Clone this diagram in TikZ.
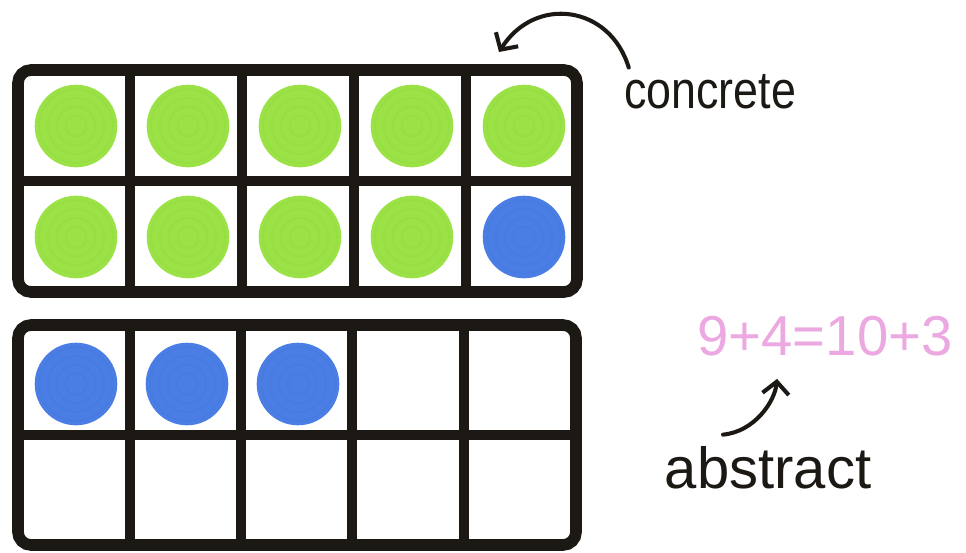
\documentclass[tikz,border=0pt]{standalone}
\usepackage{fontspec}
\setmainfont{Liberation Sans}
\newfontfamily\narrowhand[FakeStretch=0.85]{Liberation Sans}
\usetikzlibrary{arrows.meta}
\definecolor{chipgreen}{RGB}{155,226,70}
\definecolor{chipblue}{RGB}{74,126,228}
\definecolor{framecol}{RGB}{28,24,20}
\definecolor{inkpink}{RGB}{236,168,224}
\definecolor{ink}{RGB}{28,24,20}
\begin{document}
\begin{tikzpicture}[x=0.2mm, y=-0.2mm, >={Straight Barb[length=7pt,width=15pt]},
  tenframe/.style={draw=framecol, line width=6.6pt, rounded corners=2.6mm},
  bar/.style={draw=framecol, line width=6pt},
  chip/.style={circle, inner sep=0pt, minimum size=47pt, fill=#1,
    path picture={\foreach \r in {6,11,16,21}
      \draw[#1!88!black, opacity=.18, line width=.9pt] (path picture bounding box.center) circle (\r pt);}},
  hand/.style={inner sep=0pt, anchor=base, text=ink},
  cue/.style={->, draw=ink, line width=2.3pt, line cap=round}]
\path[use as bounding box, fill=white] (0,0) rectangle (966,552);
% top ten-frame
\draw[tenframe] (18,70) rectangle (577,292);
\foreach \x in {130,242,354,466} \draw[bar] (\x,70) -- (\x,292);
\draw[bar] (18,181) -- (577,181);
\foreach \i in {0,...,4} \node[chip=chipgreen] (gup\i) at (76+112*\i,126) {};
\foreach \i in {0,...,3} \node[chip=chipgreen] (glow\i) at (76+112*\i,237) {};
\node[chip=chipblue] (blast) at (524,237) {};
% bottom ten-frame
\draw[tenframe] (18,325) rectangle (576,545);
\foreach \x in {130,241,352,464} \draw[bar] (\x,325) -- (\x,545);
\draw[bar] (18,435) -- (576,435);
\foreach \i in {0,1,2} \node[chip=chipblue] (bup\i) at (76+111*\i,384) {};
% labels
\node[hand, font=\narrowhand\fontsize{30}{34}\selectfont] (concrete) at (710,108) {concrete};
\node[hand, font=\fontsize{33}{38}\selectfont] (abstract) at (768,488) {abstract};
\node[hand, text=inkpink, font=\fontsize{32}{36}\selectfont] (eq) at (825,355) {9+4=10+3};
\coordinate (frametip) at (499,52);
\draw[cue] ([shift={(5,-6)}]concrete.north west) .. controls (610,5) and (535,-5) .. (frametip);
\draw[cue] ([shift={(-45,-11)}]abstract.north) .. controls +(32,-3) and +(-2,22) .. ([shift={(-48,23)}]eq.south);
\end{tikzpicture}
\end{document}
